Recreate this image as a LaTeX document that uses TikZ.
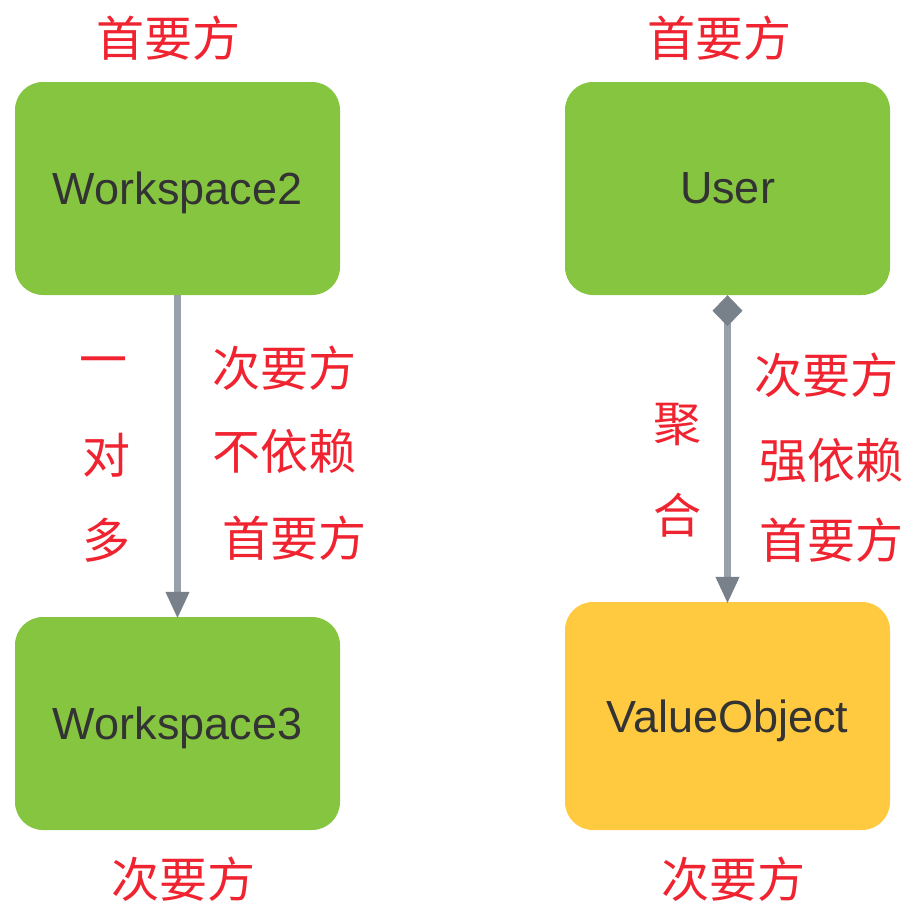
\documentclass[tikz,border=0pt]{standalone}
\usepackage{fontspec}
\setmainfont{Liberation Sans}
\newfontfamily\cjk{Noto Sans CJK SC}
\usetikzlibrary{arrows.meta}
\definecolor{boxgreen}{RGB}{134,197,64}
\definecolor{boxyellow}{RGB}{255,202,64}
\definecolor{labelred}{RGB}{240,36,48}
\definecolor{linegray}{RGB}{152,160,169}
\definecolor{tipgray}{RGB}{120,128,138}
\definecolor{boxtext}{RGB}{51,51,51}
\tikzset{
  entity/.style={rounded corners=28pt, minimum width=325pt, minimum height=213pt,
    inner sep=0pt, text depth=0pt, text=boxtext, font=\fontsize{45pt}{45pt}\selectfont},
  lbl/.style={inner sep=0pt, text=labelred, font=\cjk\fontsize{48pt}{48pt}\selectfont},
  conn/.style={line width=7pt, draw=linegray},
}
\begin{document}
\begin{tikzpicture}[x=1pt,y=-1pt]
\useasboundingbox (0,0) rectangle (908,902);
% boxes
\node[entity, fill=boxgreen] (w2) at (177.5,188.5) {Workspace2};
\node[entity, fill=boxgreen] (w3) at (177.5,723.5) {Workspace3};
\node[entity, fill=boxgreen] (user) at (727.5,188.5) {User};
\node[entity, fill=boxyellow, minimum height=228pt] (vo) at (727.5,716) {ValueObject};
% top / bottom labels
\node[lbl] (l1) at (168,38) {首要方};
\node[lbl] (l2) at (719,38) {首要方};
\node[lbl] (l3) at (183,879) {次要方};
\node[lbl] (l4) at (733,879) {次要方};
% left middle
\node[lbl] (c1) at (103,367) {一};
\node[lbl] (c2) at (106,455) {对};
\node[lbl] (c3) at (106,540) {多};
\node[lbl] (m1) at (284,368) {次要方};
\node[lbl] (m2) at (284,451) {不依赖};
\node[lbl] (m3) at (294,538) {首要方};
% right middle
\node[lbl] (d1) at (677,425) {聚};
\node[lbl] (d2) at (677,515) {合};
\node[lbl] (r1) at (826,375) {次要方};
\node[lbl] (r2) at (831,460) {强依赖};
\node[lbl] (r3) at (831,540) {首要方};
% connectors
\draw[conn, -{Triangle[length=27pt,width=22pt,color=tipgray]}] (w2.south) -- ([yshift=-2pt]w3.north);
\draw[conn, {Diamond[length=31pt,width=30pt,color=tipgray]}-{Triangle[length=27pt,width=22pt,color=tipgray]}] (user.south) -- ([yshift=-2pt]vo.north);
\end{tikzpicture}
\end{document}
